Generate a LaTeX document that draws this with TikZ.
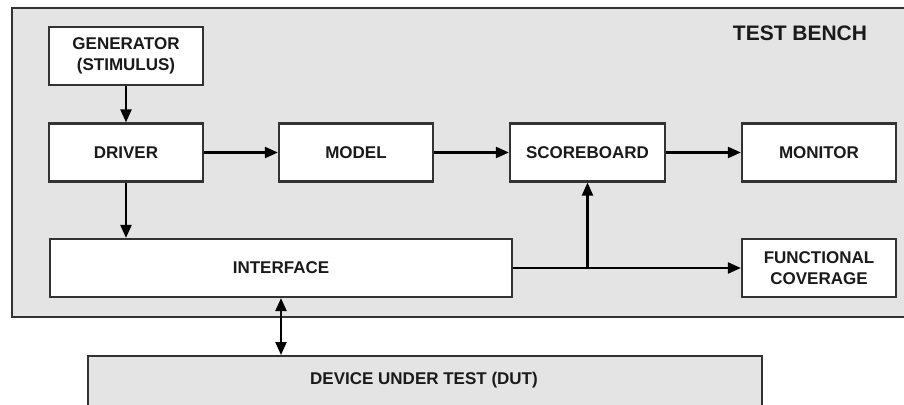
\documentclass[tikz,border=0pt]{standalone}
\usepackage{fontspec}
\setmainfont{Liberation Sans}
\usetikzlibrary{arrows.meta}
\definecolor{bg}{HTML}{E4E4E4}
\definecolor{boxline}{HTML}{333333}
\definecolor{txt}{HTML}{1A1A1A}
\begin{document}
\begin{tikzpicture}[x=1pt,y=-1pt,
  blk/.style={draw=boxline,fill=white,line width=2.2pt,minimum width=154pt,minimum height=58pt,
    inner sep=0pt,font=\fontsize{17}{21}\selectfont\bfseries,align=center,text=txt},
  area/.style={draw=boxline,fill=bg,line width=2.2pt,inner sep=0pt},
  lbl/.style={font=\fontsize{17}{21}\selectfont\bfseries,text=txt,inner sep=0pt},
  arr/.style={draw=black,line width=2.2pt,-{Triangle[length=13pt,width=11pt]}},
  darr/.style={draw=black,line width=2.2pt,{Triangle[length=13pt,width=11pt]}-{Triangle[length=13pt,width=11pt]}},
]
\useasboundingbox (0,0) rectangle (904,404);
\clip (0,0) rectangle (904,404);
% test bench area
\node[area,minimum width=910pt,minimum height=309pt,anchor=north west] (tb) at (11,7) {};
\node[lbl,font=\fontsize{21}{25}\selectfont\bfseries] (tbl) at (800,33) {TEST BENCH};
% DUT area
\node[area,minimum width=674pt,minimum height=80pt,anchor=north west] (dut) at (87,355) {};
\node[lbl] (dutl) at (424,380) {DEVICE UNDER TEST (DUT)};
% blocks
\node[blk] (gen) at (126,56) {GENERATOR\\(STIMULUS)};
\node[blk] (drv) at (126,152.5) {DRIVER};
\node[blk] (mdl) at (356,152.5) {MODEL};
\node[blk,minimum width=155pt] (sb) at (587.5,152.5) {SCOREBOARD};
\node[blk] (mon) at (819,152.5) {MONITOR};
\node[blk] (cov) at (819,268) {FUNCTIONAL\\COVERAGE};
\node[blk,minimum width=462pt] (ifc) at (281,268) {INTERFACE};
% connectors
\draw[arr] (gen) -- (drv);
\draw[arr] (drv) -- (drv |- ifc.north);
\draw[arr] (drv) -- (mdl);
\draw[arr] (mdl) -- (sb);
\draw[arr] (sb) -- (mon);
\draw[arr] (ifc.east) -- (cov.west);
\coordinate (br) at (sb.south |- ifc.east);
\draw[arr] (br) -- (sb.south);
\draw[darr] (ifc.south) -- (ifc.south |- dut.north);
\end{tikzpicture}
\end{document}
